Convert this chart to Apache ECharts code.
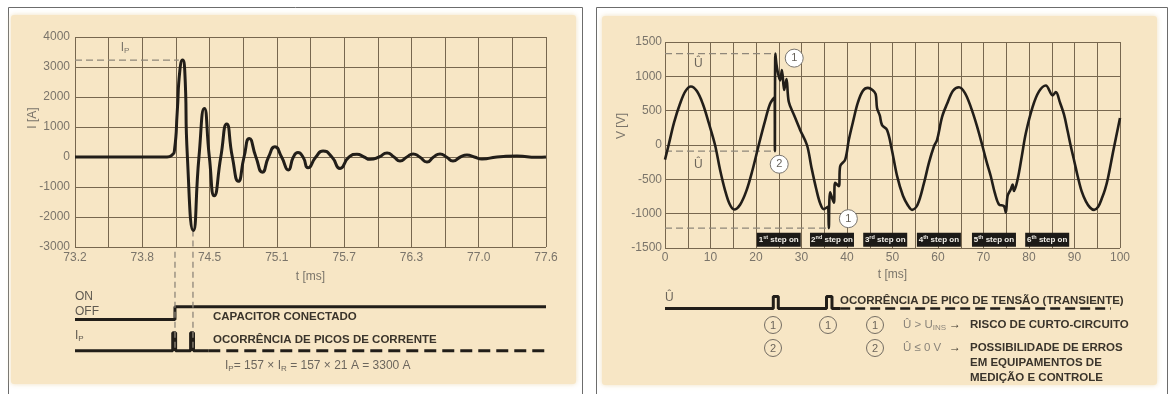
<!DOCTYPE html>
<html>
<head>
<meta charset="utf-8">
<title>Transientes de chaveamento de capacitores</title>
<script src="https://cdn.jsdelivr.net/npm/echarts@6/dist/echarts.min.js"></script>
<style>
  html, body { margin: 0; padding: 0; background: #ffffff; }
  #chart { width: 1171px; height: 394px; }
</style>
</head>
<body>
<div id="chart"></div>
<script>
// ---- dados: painel esquerdo (corrente de energização) ----
const T0 = 73.2;
const T1 = 77.6;
const STEP_L = (T1 - T0) / 14;

// [t (ms), I (A)]: picos, vales e passagens por zero
const currentPts = [
  [73.2, 0], [74.06, 0], [74.105, 60], [74.13, 250], [74.155, 1500], [74.18, 2900],
  [74.205, 3230], [74.225, 2900], [74.25, 0], [74.305, -2450], [74.358, 0],
  [74.408, 1620], [74.455, 0], [74.501, -1290], [74.562, 0], [74.617, 1100],
  [74.67, 0], [74.726, -810], [74.779, 0], [74.828, 615], [74.89, 0],
  [74.95, -505], [75.008, 0], [75.068, 340], [75.13, 0], [75.193, -430],
  [75.24, 0], [75.283, 150], [75.33, 0], [75.377, -360], [75.45, 0],
  [75.517, 200], [75.6, 0], [75.676, -380], [75.76, 0], [75.834, 90],
  [75.9, 0], [75.956, -77], [76.04, 0], [76.115, 134], [76.18, 0],
  [76.236, -134], [76.3, 0], [76.358, 100], [76.42, 0], [76.488, -168],
  [76.55, 0], [76.61, 100], [76.67, 0], [76.731, -134], [76.8, 0],
  [76.862, 67], [76.93, 0], [77.002, -67], [77.142, 0], [77.329, 30],
  [77.516, -10], [77.6, 0]
];
const ipRefLine = [[73.2, 3230], [74.17, 3230]];
const ipTroughDrop = [[74.302, -2450], [74.302, -3000]];
const ipLabelAt = [73.667, 3630];

// diagrama de tempo (níveis esquemáticos: base 0, pulso 1)
const switchState = [[73.2, 1.74], [74.134, 1.74], [74.134, 2.44], [77.6, 2.44]];
const ipPulses = [
  [73.2, 0], [74.113, 0], [74.113, 1], [74.14, 1], [74.14, 0],
  [74.28, 0], [74.28, 1], [74.307, 1], [74.307, 0], [74.445, 0]
];
const ipTail = [[74.445, 0], [77.6, 0]];
const markerDrops = [
  [[74.134, 5.5], [74.134, 0.1]],
  [[74.302, 5.5], [74.302, 0.1]]
];

// ---- dados: painel direito (tensão) ----
const voltagePts = [
  [0, -213], [0.8, 0], [2.0, 330], [3.3, 600], [4.5, 785], [5.7, 852], [7.0, 785],
  [8.3, 600], [9.6, 325], [11.0, 0], [12.1, -360], [13.2, -660], [14.2, -860],
  [15.2, -940], [16.5, -870], [17.9, -665], [19.25, -360], [20.6, 0], [21.9, 330],
  [23.1, 600], [24.1, 700], [24.15, -90], [24.25, 1330], [24.6, 1130], [25.3, 940],
  [25.7, 1090], [26.2, 800], [26.7, 960], [27.2, 630], [28.4, 430], [29.7, 220],
  [31.2, 0], [32.2, -330], [33.2, -630], [34.1, -850], [34.9, -935], [35.8, -900],
  [36.0, -1210], [36.3, -690], [37.1, -840], [37.4, -550], [38.2, -600], [38.5, -310],
  [39.6, -213], [40.4, 75], [41.4, 360], [42.4, 620], [43.5, 790], [44.6, 832],
  [45.6, 800], [46.3, 740], [46.6, 540], [47.2, 430], [47.7, 290], [48.8, 219],
  [49.8, -50], [51.0, -450], [52.3, -740], [53.4, -880], [54.3, -945], [55.5, -870],
  [56.9, -560], [58.0, -260], [59.1, -22], [59.8, 75], [60.9, 410], [62.0, 600],
  [63.3, 790], [64.6, 842], [65.9, 760], [67.2, 555], [68.5, 290], [69.8, -22],
  [70.7, -250], [71.6, -455], [72.5, -700], [73.4, -865], [74.5, -890], [74.9, -985],
  [75.3, -740], [76.0, -645], [76.4, -575], [76.7, -670], [77.5, -500], [78.4, -170],
  [79.3, 170], [80.8, 555], [82.2, 780], [83.7, 867], [85.2, 723], [85.9, 770],
  [86.8, 620], [87.7, 442], [88.5, 200], [89.2, -22], [90.0, -250], [90.7, -455],
  [91.6, -680], [92.5, -820], [93.4, -910], [94.3, -945], [95.2, -900], [96.0, -780],
  [96.7, -650], [97.3, -500], [98.6, -60], [100, 392]
];
const uHighRef = [[0, 1330], [24.2, 1330]];
const uLowRef = [[0, -90], [24.15, -90]];
const uMinRef = [[0, -1210], [36.0, -1210]];
const hatLabels = [[7.3, 1180], [7.3, -280]];
const circleMarks = [
  { name: '1', coord: [28.4, 1265] },
  { name: '2', coord: [25.1, -280] },
  { name: '1', coord: [40.3, -1073] }
];
const stepOrdinals = ['1st', '2nd', '3rd', '4th', '5th', '6th'];
const stepTimes = [25.0, 36.7, 48.4, 60.2, 72.3, 84.0];
const STEP_BOX_V = -1380;

const uPulses = [
  [0, 0], [23.8, 0], [23.8, 1], [24.9, 1], [24.9, 0],
  [35.5, 0], [35.5, 1], [36.7, 1], [36.7, 0], [38.5, 0]
];
const uTail = [[38.5, 0], [98, 0]];

// ---- estilos ----
const BEIGE = '#f7e6c5';
const GRID_LINE = '#77674f';
const INK = '#221e19';
const LABEL = '#7a746a';
const TEXT_DARK = '#3a342b';
const REF = '#8f877a';
const FONT = '"Liberation Sans", Arial, sans-serif';

const shiftL = pts => pts.map(p => [p[0] - T0, p[1]]);

const myChart = echarts.init(document.getElementById('chart'));

const axisLabelStyle = { color: LABEL, fontSize: 12, fontFamily: FONT };
const splitLine = { show: true, lineStyle: { color: GRID_LINE, width: 1 } };

const lineSeries = (name, data, xi, extra) => Object.assign({
  name: name,
  type: 'line',
  xAxisIndex: xi,
  yAxisIndex: xi,
  data: data,
  symbol: 'none',
  silent: true,
  lineStyle: { color: INK, width: 3 }
}, extra || {});

const dashed = (w, d, c) => ({ color: c || INK, width: w, type: d });

// textos do gráfico (não são marcas de dados)
const txt = (x, y, text, opts) => {
  const o = opts || {};
  const font = (o.bold ? 'bold ' : '') + (o.size || 12) + 'px ' + FONT;
  return {
    type: 'text', x: x, y: y, z: 100, silent: true,
    rotation: o.rotation || 0,
    style: {
      text: text, font: font, fill: o.color || TEXT_DARK,
      align: o.align || 'left', textAlign: o.align || 'left',
      verticalAlign: 'middle', textVerticalAlign: 'middle',
      rich: o.rich
    }
  };
};
const subRich = (color, size) => ({
  m: { font: (size || 12) + 'px ' + FONT, fill: color, color: color },
  sub: { font: '8px ' + FONT, fill: color, color: color, verticalAlign: 'bottom', padding: [5, 0, 0, 0] }
});
const circ = (cx, cy, label) => [
  { type: 'circle', z: 99, silent: true, shape: { cx: cx, cy: cy, r: 8.5 }, style: { fill: 'none', stroke: '#746d63', lineWidth: 1 } },
  txt(cx, cy + 0.5, label, { color: '#6c655b', size: 11, align: 'center' })
];

const option = {
  animation: false,
  backgroundColor: '#ffffff',
  graphic: [
    { type: 'rect', z: -20, silent: true, shape: { x: 8.5, y: 7.5, width: 574, height: 400 }, style: { fill: '#ffffff', stroke: '#6c6c6c', lineWidth: 1 } },
    { type: 'rect', z: -19, silent: true, shape: { x: 11, y: 15, width: 565, height: 369, r: 3 }, style: { fill: BEIGE, shadowBlur: 5, shadowColor: 'rgba(235,215,175,0.8)' } },
    { type: 'rect', z: -20, silent: true, shape: { x: 596.5, y: 7.5, width: 571, height: 400 }, style: { fill: '#ffffff', stroke: '#6c6c6c', lineWidth: 1 } },
    { type: 'rect', z: -19, silent: true, shape: { x: 602, y: 16, width: 555, height: 369, r: 3 }, style: { fill: BEIGE, shadowBlur: 5, shadowColor: 'rgba(235,215,175,0.8)' } },

    // painel esquerdo
    txt(33, 118, 'I [A]', { color: LABEL, rotation: Math.PI / 2, align: 'center' }),
    txt(75, 297, 'ON', { color: '#5f5950' }),
    txt(75, 312, 'OFF', { color: '#5f5950' }),
    txt(213, 317, 'CAPACITOR CONECTADO', { bold: true, size: 11.5 }),
    txt(75, 336, '{m|I}{sub|P}', { rich: subRich('#5f5950') }),
    txt(213, 340, 'OCORRÊNCIA DE PICOS DE CORRENTE', { bold: true, size: 11.5 }),
    txt(225, 366, '{m|I}{sub|P}{m|= 157 × I}{sub|R}{m| = 157 × 21 A = 3300 A}', { rich: subRich('#6c665d') }),

    // painel direito
    txt(622, 126, 'V [V]', { color: LABEL, rotation: Math.PI / 2, align: 'center' }),
    txt(665, 298, 'Û', { color: '#6c655b' }),
    txt(840, 301, 'OCORRÊNCIA DE PICO DE TENSÃO (TRANSIENTE)', { bold: true, size: 11.5 }),
    ...circ(773, 325, '1'), ...circ(773, 348, '2'), ...circ(828, 325, '1'),
    ...circ(875, 325, '1'), ...circ(875, 348, '2'),
    txt(903, 325, '{m|Û > U}{sub|INS}', { rich: subRich('#8a847a', 11.5) }),
    txt(949, 325, '→', { bold: true }),
    txt(970, 325, 'RISCO DE CURTO-CIRCUITO', { bold: true, size: 11.5 }),
    txt(903, 348, 'Û ≤ 0 V', { color: '#8a847a', size: 11.5 }),
    txt(949, 348, '→', { bold: true }),
    txt(970, 348, 'POSSIBILIDADE DE ERROS', { bold: true, size: 11.5 }),
    txt(970, 363, 'EM EQUIPAMENTOS DE', { bold: true, size: 11.5 }),
    txt(970, 378, 'MEDIÇÃO E CONTROLE', { bold: true, size: 11.5 })
  ],
  grid: [
    { left: 75, top: 37, width: 471, height: 210 },
    { left: 75, top: 251.7, width: 471, height: 102.6 },
    { left: 665, top: 42, width: 455, height: 206 },
    { left: 665, top: 294.1, width: 455, height: 16.8 }
  ],
  xAxis: [
    {
      gridIndex: 0, type: 'value', min: 0, max: T1 - T0, interval: STEP_L,
      axisLine: { show: false }, axisTick: { show: false }, splitLine: splitLine,
      axisLabel: Object.assign({
        margin: 5,
        formatter: v => {
          const k = Math.round(v / STEP_L);
          return k % 2 === 0 ? (T0 + v).toFixed(1) : '';
        }
      }, axisLabelStyle),
      name: 't [ms]', nameLocation: 'middle', nameGap: 24,
      nameTextStyle: axisLabelStyle
    },
    { gridIndex: 1, type: 'value', min: 0, max: T1 - T0, show: false },
    {
      gridIndex: 2, type: 'value', min: 0, max: 100, interval: 5,
      axisLine: { show: false }, axisTick: { show: false }, splitLine: splitLine,
      axisLabel: Object.assign({
        margin: 4,
        formatter: v => (v % 10 === 0 ? String(v) : '')
      }, axisLabelStyle),
      name: 't [ms]', nameLocation: 'middle', nameGap: 20,
      nameTextStyle: axisLabelStyle
    },
    { gridIndex: 3, type: 'value', min: 0, max: 100, show: false }
  ],
  yAxis: [
    {
      gridIndex: 0, type: 'value', min: -3000, max: 4000, interval: 1000,
      axisLine: { show: false }, axisTick: { show: false }, splitLine: splitLine,
      axisLabel: Object.assign({ margin: 5, formatter: v => String(v) }, axisLabelStyle)
    },
    { gridIndex: 1, type: 'value', min: -0.2, max: 5.5, show: false },
    {
      gridIndex: 2, type: 'value', min: -1500, max: 1500, interval: 500,
      axisLine: { show: false }, axisTick: { show: false }, splitLine: splitLine,
      axisLabel: Object.assign({ margin: 3, formatter: v => String(v) }, axisLabelStyle)
    },
    { gridIndex: 3, type: 'value', min: -0.2, max: 1.2, show: false }
  ],
  series: [
    // esquerdo: corrente
    lineSeries('Ip ref', shiftL(ipRefLine), 0, {
      lineStyle: dashed(1.3, [7, 4], REF),
      markPoint: {
        symbol: 'circle', symbolSize: 1, silent: true,
        itemStyle: { color: 'transparent' },
        label: {
          show: true, position: 'inside',
          formatter: '{m|I}{s|P}',
          rich: {
            m: { color: LABEL, fontSize: 12, fontFamily: FONT },
            s: { color: LABEL, fontSize: 8, fontFamily: FONT, verticalAlign: 'bottom', padding: [5, 0, 0, 0] }
          }
        },
        data: [{ coord: [ipLabelAt[0] - T0, ipLabelAt[1]] }]
      }
    }),
    lineSeries('Ip trough drop', shiftL(ipTroughDrop), 0, { lineStyle: dashed(1.3, [6, 4], REF) }),
    lineSeries('I', shiftL(currentPts), 0, { smooth: 0.6, z: 5 }),
    // esquerdo: diagrama de tempo
    lineSeries('switch', shiftL(switchState), 1),
    lineSeries('ip pulses', shiftL(ipPulses), 1),
    lineSeries('ip tail', shiftL(ipTail), 1, { lineStyle: dashed(3, [12, 6]) }),
    lineSeries('drop a', shiftL(markerDrops[0]), 1, { lineStyle: dashed(1.3, [6, 4], REF) }),
    lineSeries('drop b', shiftL(markerDrops[1]), 1, { lineStyle: dashed(1.3, [6, 4], REF) }),

    // direito: tensão
    lineSeries('U high', uHighRef, 2, {
      lineStyle: dashed(1.3, [7, 4], REF),
      markPoint: {
        symbol: 'circle', symbolSize: 1, silent: true,
        itemStyle: { color: 'transparent' },
        label: { show: true, position: 'inside', formatter: 'Û', color: '#6c655b', fontSize: 12, fontFamily: FONT },
        data: hatLabels.map(c => ({ coord: c }))
      }
    }),
    lineSeries('U low', uLowRef, 2, { lineStyle: dashed(1.3, [7, 4], REF) }),
    lineSeries('U min', uMinRef, 2, {
      lineStyle: dashed(1.3, [7, 4], REF),
      markPoint: {
        symbol: 'rect', symbolSize: [44, 14], silent: true,
        itemStyle: { color: '#1c1a17' },
        label: {
          show: true, position: 'inside',
          formatter: p => '{n|' + p.name[0] + '}{s|' + p.name.slice(1) + '}{n| step on}',
          rich: {
            n: { color: '#f2efe8', fontSize: 8, fontWeight: 'bold', fontFamily: FONT },
            s: { color: '#f2efe8', fontSize: 5.5, fontWeight: 'bold', fontFamily: FONT, verticalAlign: 'top', padding: [0, 0, 4, 0] }
          }
        },
        data: stepTimes.map((t, i) => ({ name: stepOrdinals[i], coord: [t, STEP_BOX_V] }))
      }
    }),
    lineSeries('V', voltagePts, 2, {
      smooth: 0.35, z: 5,
      lineStyle: { color: INK, width: 2.6 },
      markPoint: {
        symbol: 'circle', symbolSize: 18, silent: true,
        itemStyle: { color: '#ffffff', borderColor: '#7a7670', borderWidth: 1 },
        label: { show: true, position: 'inside', formatter: p => p.name, color: '#67625a', fontSize: 11, fontFamily: FONT },
        data: circleMarks
      }
    }),
    // direito: diagrama de tempo
    lineSeries('u pulses', uPulses, 3),
    lineSeries('u tail', uTail, 3, { lineStyle: dashed(2.6, [10, 5]) })
  ]
};

myChart.setOption(option);
</script>
</body>
</html>
